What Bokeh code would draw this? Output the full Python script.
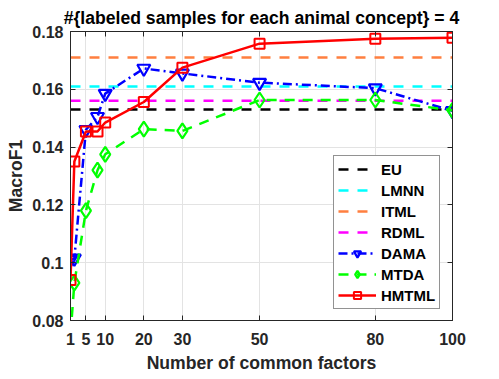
from bokeh.plotting import figure
from bokeh.models import Range1d, FixedTicker, LinearAxis, Legend, LegendItem
from bokeh.embed import file_html
from bokeh.resources import INLINE

# ---- data ----
factors = [1, 2, 5, 8, 10, 20, 30, 50, 80, 100]
x_ticks = [1, 5, 10, 20, 30, 50, 80, 100]
y_ticks = [0.08, 0.10, 0.12, 0.14, 0.16, 0.18]
y_tick_labels = ["0.08", "0.1", "0.12", "0.14", "0.16", "0.18"]

eu = 0.153
lmnn = 0.161
itml = 0.171
rdml = 0.156
dama = [0.101, 0.1015, 0.146, 0.1505, 0.1585, 0.1672, 0.1655, 0.1623, 0.1604, 0.1525]
mtda = [0.075, 0.093, 0.118, 0.132, 0.1375, 0.1462, 0.1456, 0.1563, 0.1563, 0.1527]
hmtml = [0.094, 0.135, 0.1454, 0.1454, 0.1485, 0.1556, 0.1675, 0.1758, 0.1775, 0.1778]

title_text = "#{labeled samples for each animal concept} = 4"
FONT = "Liberation Sans"
DARK = "#262626"

p = figure(width=483, height=377, output_backend="svg", toolbar_location=None,
           x_range=Range1d(1, 100), y_range=Range1d(0.08, 0.18),
           title=title_text,
           min_border_left=70, min_border_right=31, min_border_top=31, min_border_bottom=57)

p.title.align = "center"
p.title.text_font = FONT
p.title.text_font_style = "bold"
p.title.text_font_size = "17.6px"
p.title.text_color = "black"
p.title.standoff = 8
p.title.offset = 0

p.outline_line_color = DARK
p.outline_line_width = 1
p.background_fill_color = "white"
p.border_fill_color = "white"

for ax, ticks in ((p.xaxis[0], x_ticks), (p.yaxis[0], y_ticks)):
    ax.ticker = FixedTicker(ticks=ticks)
    ax.major_tick_in = 5
    ax.major_tick_out = 0
    ax.minor_tick_line_color = None
    ax.axis_line_color = DARK
    ax.major_tick_line_color = DARK
    ax.major_label_text_font = FONT
    ax.major_label_text_font_style = "bold"
    ax.major_label_text_font_size = "16px"
    ax.major_label_text_color = DARK
    ax.axis_label_text_font = FONT
    ax.axis_label_text_font_style = "bold"
    ax.axis_label_text_font_size = "17.6px"
    ax.axis_label_text_color = DARK

p.yaxis[0].major_label_overrides = {t: l for t, l in zip(y_ticks, y_tick_labels)}
p.xaxis[0].axis_label = "Number of common factors"
p.yaxis[0].axis_label = "MacroF1"
p.xaxis[0].major_label_standoff = 12
p.yaxis[0].major_label_standoff = 7
p.xaxis[0].axis_label_standoff = 5
p.yaxis[0].axis_label_standoff = 3

# box axes (top/right) with inward ticks
top = LinearAxis(ticker=FixedTicker(ticks=x_ticks), major_tick_in=5, major_tick_out=0,
                 minor_tick_line_color=None, axis_line_color=DARK, major_tick_line_color=DARK,
                 major_label_text_font_size="0px", major_label_standoff=0)
right = LinearAxis(ticker=FixedTicker(ticks=y_ticks), major_tick_in=5, major_tick_out=0,
                   minor_tick_line_color=None, axis_line_color=DARK, major_tick_line_color=DARK,
                   major_label_text_font_size="0px", major_label_standoff=0)
p.add_layout(top, "above")
p.add_layout(right, "right")

p.xgrid.ticker = FixedTicker(ticks=x_ticks)
p.ygrid.ticker = FixedTicker(ticks=y_ticks)
p.grid.grid_line_color = "#e3e3e3"
p.grid.grid_line_width = 1

items = []
xs_full = [factors[0], factors[-1]]
for name, val, col in (("EU", eu, "black"), ("LMNN", lmnn, "#00ffff"),
                       ("ITML", itml, "#ff7f3f"), ("RDML", rdml, "#ff00ff")):
    r = p.line(xs_full, [val, val], line_color=col, line_width=2.5, line_dash="10 9")
    items.append(LegendItem(label=name, renderers=[r]))

r1 = p.line(factors, dama, line_color="#0000ff", line_width=2.5, line_dash="9 4 2 4")
s1 = p.scatter(factors, dama, marker="inverted_triangle", size=13, line_color="#0000ff",
               line_width=2.2, fill_color="#0000ff", fill_alpha=0.0)
items.append(LegendItem(label="DAMA", renderers=[r1, s1]))

r2 = p.line(factors, mtda, line_color="#00ff00", line_width=2.5, line_dash="10 8")
s2 = p.scatter(factors, mtda, marker="diamond", size=15, line_color="#00ff00",
               line_width=2.2, fill_alpha=0.0)
items.append(LegendItem(label="MTDA", renderers=[r2, s2]))

r3 = p.line(factors, hmtml, line_color="#ff0000", line_width=2.5)
s3 = p.scatter(factors, hmtml, marker="square", size=10, line_color="#ff0000",
               line_width=2, fill_alpha=0.0)
items.append(LegendItem(label="HMTML", renderers=[r3, s3]))

legend = Legend(items=items, location=(263, 11))
legend.label_text_font = FONT
legend.label_text_font_style = "bold"
legend.label_text_font_size = "15px"
legend.label_text_color = "black"
legend.label_height = 18
legend.glyph_height = 18
legend.glyph_width = 38
legend.label_standoff = 5
legend.spacing = 3
legend.padding = 4
legend.margin = 0
legend.border_line_color = DARK
legend.border_line_width = 1
legend.background_fill_alpha = 1.0
p.add_layout(legend, "center")

open("out.html", "w").write(file_html(p, INLINE))
